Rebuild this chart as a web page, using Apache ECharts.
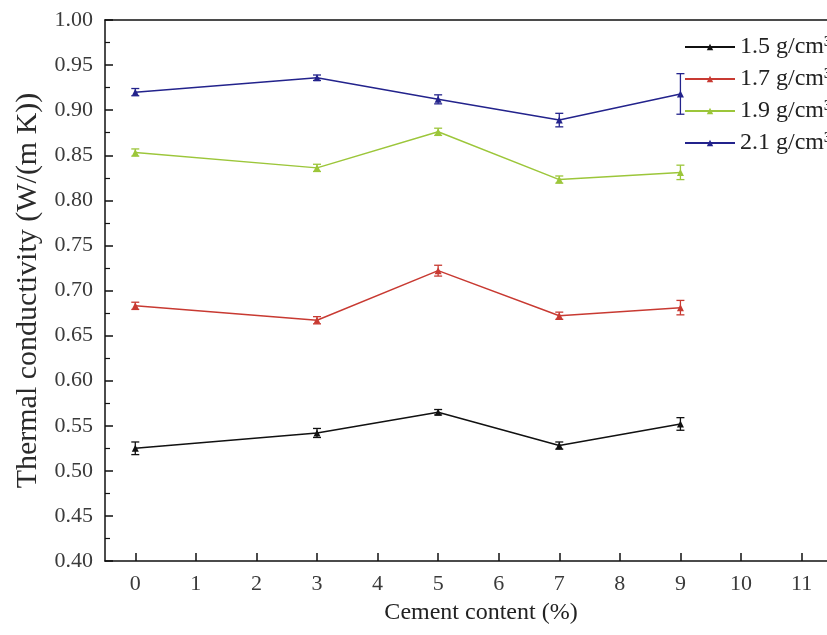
<!DOCTYPE html>
<html>
<head>
<meta charset="utf-8">
<script src="https://cdn.jsdelivr.net/npm/echarts@6/dist/echarts.min.js"></script>
<style>html,body{margin:0;padding:0;background:#fff}#c{width:827px;height:635px}</style>
</head>
<body>
<div id="c"></div>
<script>
const cementContent = [0, 3, 5, 7, 9];
const seriesNames = ['1.5 g/cm³', '1.7 g/cm³', '1.9 g/cm³', '2.1 g/cm³'];
const values15 = [0.525, 0.542, 0.565, 0.528, 0.552];
const values17 = [0.683, 0.667, 0.722, 0.672, 0.681];
const values19 = [0.853, 0.836, 0.876, 0.823, 0.831];
const values21 = [0.920, 0.936, 0.912, 0.889, 0.918];
const errors15 = [0.007, 0.005, 0.003, 0.004, 0.007];
const errors17 = [0.004, 0.004, 0.006, 0.004, 0.008];
const errors19 = [0.004, 0.004, 0.004, 0.004, 0.008];
const errors21 = [0.004, 0.003, 0.005, 0.0075, 0.0225];
const xTicks = [0, 1, 2, 3, 4, 5, 6, 7, 8, 9, 10, 11];
const colors = ['#111111', '#c83a32', '#9cc63a', '#23238c'];

const allValues = [values15, values17, values19, values21];
const allErrors = [errors15, errors17, errors19, errors21];
const font = '"Liberation Serif", "Times New Roman", serif';

const series = [];
allValues.forEach((vals, i) => {
  series.push({
    name: seriesNames[i],
    type: 'line',
    data: cementContent.map((x, j) => [x, vals[j]]),
    symbol: 'triangle',
    symbolSize: 7,
    lineStyle: { color: colors[i], width: 1.5 },
    itemStyle: { color: colors[i] },
    z: 3
  });
  series.push({
    name: seriesNames[i],
    type: 'custom',
    data: cementContent.map((x, j) => [x, vals[j], allErrors[i][j]]),
    renderItem: function (params, api) {
      const x = api.value(0), y = api.value(1), e = api.value(2);
      const top = api.coord([x, y + e]);
      const bot = api.coord([x, y - e]);
      const hw = 4;
      const st = { stroke: colors[i], lineWidth: 1.3 };
      return {
        type: 'group',
        children: [
          { type: 'line', shape: { x1: top[0], y1: top[1], x2: bot[0], y2: bot[1] }, style: st },
          { type: 'line', shape: { x1: top[0] - hw, y1: top[1], x2: top[0] + hw, y2: top[1] }, style: st },
          { type: 'line', shape: { x1: bot[0] - hw, y1: bot[1], x2: bot[0] + hw, y2: bot[1] }, style: st }
        ]
      };
    },
    z: 2
  });
});

const chart = echarts.init(document.getElementById('c'), null, { renderer: 'canvas' });
chart.setOption({
  animation: false,
  backgroundColor: '#fff',
  grid: { left: 105, top: 20, right: 0, bottom: 74 },
  legend: {
    data: seriesNames,
    orient: 'vertical',
    left: 679,
    top: 30,
    itemWidth: 50,
    itemHeight: 8,
    itemGap: 8,
    textStyle: { fontFamily: font, fontSize: 24, color: '#222', lineHeight: 24 }
  },
  xAxis: [{
    type: 'value',
    min: -0.5,
    max: 11.42,
    name: 'Cement content (%)',
    nameLocation: 'middle',
    nameGap: 40,
    nameTextStyle: { fontFamily: font, fontSize: 24, color: '#222', padding: [0, 0, 0, 30] },
    axisLine: { onZero: false, lineStyle: { color: '#111', width: 1.5 } },
    axisTick: { inside: true, length: 8, lineStyle: { color: '#111', width: 1.5 }, customValues: xTicks },
    axisLabel: { customValues: xTicks, fontFamily: font, fontSize: 22, color: '#3a3a3a', margin: 12 },
    splitLine: { show: false }
  }, {
    type: 'value',
    position: 'top',
    min: -0.5,
    max: 11.42,
    axisLine: { show: true, onZero: false, lineStyle: { color: '#111', width: 1.5 } },
    axisTick: { show: false },
    axisLabel: { show: false },
    splitLine: { show: false }
  }],
  yAxis: {
    type: 'value',
    min: 0.4,
    max: 1.0,
    interval: 0.05,
    name: 'Thermal conductivity (W/(m K))',
    nameLocation: 'middle',
    nameGap: 58,
    nameTextStyle: { fontFamily: font, fontSize: 30, color: '#2a2a2a' },
    axisLine: { show: true, onZero: false, lineStyle: { color: '#111', width: 1.5 } },
    axisTick: { inside: true, length: 8, lineStyle: { color: '#111', width: 1.5 } },
    minorTick: { show: true, splitNumber: 2, length: 5, lineStyle: { color: '#111', width: 1.2 } },
    axisLabel: { fontFamily: font, fontSize: 22, color: '#3a3a3a', margin: 12, formatter: v => v.toFixed(2) },
    splitLine: { show: false }
  },
  series: series
});
</script>
</body>
</html>
